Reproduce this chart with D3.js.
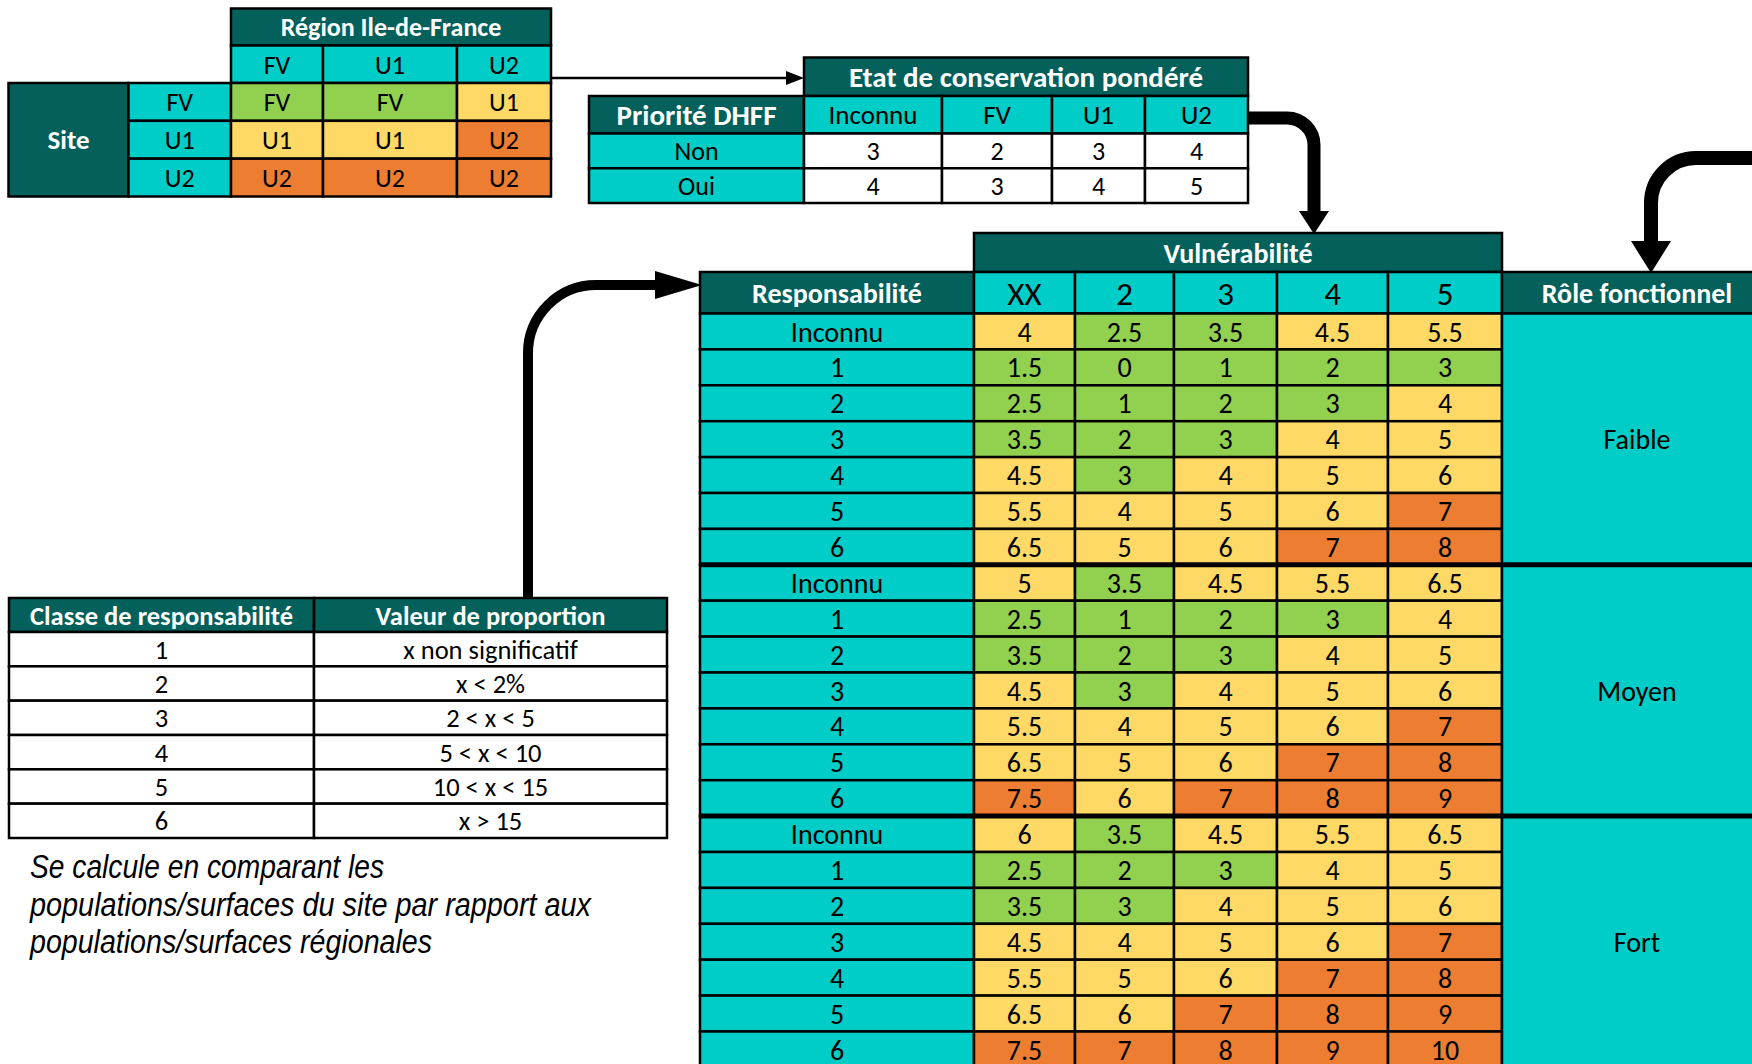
<!DOCTYPE html>
<html lang="fr">
<head>
<meta charset="UTF-8">
<title>Matrice de priorisation</title>
<script src="https://d3js.org/d3.v7.min.js"></script>
<style>
body {
    margin: 0;
    background-color: #ffffff;
}
svg {
    display: block;
    font-family: Carlito, Calibri, Lato, sans-serif;
}
.note {
    font-family: 'Liberation Sans Narrow', 'Arial Narrow', sans-serif;
    font-style: italic;
}
</style>
</head>
<body>
<svg id="canvas"></svg>
<script>
// ---- data ----
let regionCols = ['FV', 'U1', 'U2']
let siteRows = ['FV', 'U1', 'U2']
let etatMatrix = [
    ['FV', 'FV', 'U1'],
    ['U1', 'U1', 'U2'],
    ['U2', 'U2', 'U2']
]

let etatCols = ['Inconnu', 'FV', 'U1', 'U2']
let prioriteRows = ['Non', 'Oui']
let etatScores = [
    [3, 2, 3, 4],
    [4, 3, 4, 5]
]

let vulnCols = ['XX', '2', '3', '4', '5']
let respRows = ['Inconnu', '1', '2', '3', '4', '5', '6']
let roles = ['Faible', 'Moyen', 'Fort']
let scoresFaible = [
    [4, 2.5, 3.5, 4.5, 5.5],
    [1.5, 0, 1, 2, 3],
    [2.5, 1, 2, 3, 4],
    [3.5, 2, 3, 4, 5],
    [4.5, 3, 4, 5, 6],
    [5.5, 4, 5, 6, 7],
    [6.5, 5, 6, 7, 8]
]
let scoresMoyen = [
    [5, 3.5, 4.5, 5.5, 6.5],
    [2.5, 1, 2, 3, 4],
    [3.5, 2, 3, 4, 5],
    [4.5, 3, 4, 5, 6],
    [5.5, 4, 5, 6, 7],
    [6.5, 5, 6, 7, 8],
    [7.5, 6, 7, 8, 9]
]
let scoresFort = [
    [6, 3.5, 4.5, 5.5, 6.5],
    [2.5, 2, 3, 4, 5],
    [3.5, 3, 4, 5, 6],
    [4.5, 4, 5, 6, 7],
    [5.5, 5, 6, 7, 8],
    [6.5, 6, 7, 8, 9],
    [7.5, 7, 8, 9, 10]
]

let classes = ['1', '2', '3', '4', '5', '6']
let proportions = ['x non significatif', 'x < 2%', '2 < x < 5', '5 < x < 10', '10 < x < 15', 'x > 15']
let noteLines = [
    'Se calcule en comparant les',
    'populations/surfaces du site par rapport aux',
    'populations/surfaces régionales'
]

// ---- style ----
let dark = '#03605B'
let cyan = '#00CCC8'
let green = '#92D050'
let yellow = '#FFD966'
let orange = '#ED7D31'
let line = 2.5

let width = 1752
let height = 1064

let svg = d3.select('svg')
    .attr('width', width)
    .attr('height', height)

let statusColor = d3.scaleOrdinal().domain(['FV', 'U1', 'U2']).range([green, yellow, orange])
let scoreColor = d3.scaleThreshold().domain([3.75, 6.75]).range([green, yellow, orange])

let edgesScale = (keys, edges) => {
    let x = d3.scaleOrdinal().domain(keys).range(edges.slice(0, -1))
    let w = d3.scaleOrdinal().domain(keys).range(d3.pairs(edges).map(p => p[1] - p[0]))
    return [x, w]
}

let cell = (g, x, y, w, h, fill, label, opts = {}) => {
    g.append('rect')
        .attr('x', x).attr('y', y)
        .attr('width', w).attr('height', h)
        .attr('fill', fill)
        .attr('stroke', '#000')
        .attr('stroke-width', line)
    if (label === undefined) return
    g.append('text')
        .attr('x', x + w / 2)
        .attr('y', y + h / 2)
        .attr('dy', '0.36em')
        .attr('text-anchor', 'middle')
        .attr('font-size', opts.size || 26)
        .attr('font-weight', opts.bold ? 'bold' : 'normal')
        .attr('fill', opts.white ? '#fff' : '#000')
        .text(label)
}

// ---- table 1 : Site x Région ----
let drawSiteTable = () => {
    let g = svg.append('g')
    let [x, w] = edgesScale(regionCols, [231, 323, 457, 551])
    let y = d3.scaleBand().domain(siteRows).range([83, 196.5])

    cell(g, 231, 8.5, 320, 37, dark, 'Région Ile-de-France', { bold: true, white: true, size: 26 })
    regionCols.forEach(c => cell(g, x(c), 45.5, w(c), 37.5, cyan, c, { size: 26 }))
    cell(g, 8.5, 83, 120, 113.5, dark, 'Site', { bold: true, white: true, size: 27 })
    siteRows.forEach((r, i) => {
        cell(g, 128.5, y(r), 102.5, y.bandwidth(), cyan, r, { size: 26 })
        regionCols.forEach((c, j) => {
            let v = etatMatrix[i][j]
            cell(g, x(c), y(r), w(c), y.bandwidth(), statusColor(v), v, { size: 26 })
        })
    })
}

// ---- table 2 : Etat de conservation pondéré ----
let drawEtatTable = () => {
    let g = svg.append('g')
    let [x, w] = edgesScale(etatCols, [804, 942, 1052, 1145, 1248])
    let y = d3.scaleBand().domain(prioriteRows).range([133.5, 203])

    cell(g, 804, 57.5, 444, 38.5, dark, 'Etat de conservation pondéré', { bold: true, white: true, size: 29 })
    cell(g, 589, 96, 215, 37.5, dark, 'Priorité DHFF', { bold: true, white: true, size: 29 })
    etatCols.forEach(c => cell(g, x(c), 96, w(c), 37.5, cyan, c, { size: 27 }))
    prioriteRows.forEach((r, i) => {
        cell(g, 589, y(r), 215, y.bandwidth(), cyan, r, { size: 26 })
        etatCols.forEach((c, j) => cell(g, x(c), y(r), w(c), y.bandwidth(), '#fff', etatScores[i][j], { size: 26 }))
    })
}

// ---- big table : Responsabilité x Vulnérabilité x Rôle ----
let drawScoreTable = () => {
    let g = svg.append('g')
    let [x, w] = edgesScale(vulnCols, [974, 1075, 1174, 1277, 1388, 1502])
    let groups = [scoresFaible, scoresMoyen, scoresFort]
    let keys = []
    roles.forEach(role => respRows.forEach(r => keys.push(role + '|' + r)))
    let y = d3.scaleBand().domain(keys).range([313.5, 313.5 + keys.length * 35.9])
    let h = y.bandwidth()

    cell(g, 974, 233, 528, 39, dark, 'Vulnérabilité', { bold: true, white: true, size: 28 })
    cell(g, 700, 272, 274, 41.5, dark, 'Responsabilité', { bold: true, white: true, size: 28 })
    vulnCols.forEach(c => cell(g, x(c), 272, w(c), 41.5, cyan, c, { size: 33 }))
    cell(g, 1502, 272, 270, 41.5, dark, 'Rôle fonctionnel', { bold: true, white: true, size: 28 })

    roles.forEach((role, k) => {
        let top = y(role + '|' + respRows[0])
        respRows.forEach((r, i) => {
            let yy = y(role + '|' + r)
            cell(g, 700, yy, 274, h, cyan, r, { size: 28 })
            vulnCols.forEach((c, j) => {
                let v = groups[k][i][j]
                cell(g, x(c), yy, w(c), h, scoreColor(v), v, { size: 28 })
            })
        })
        cell(g, 1502, top, 270, h * respRows.length, cyan, role, { size: 28 })
    })

    // thicker lines between role groups
    roles.slice(1).forEach(role => {
        g.append('line')
            .attr('x1', 699).attr('x2', width)
            .attr('y1', y(role + '|' + respRows[0]))
            .attr('y2', y(role + '|' + respRows[0]))
            .attr('stroke', '#000')
            .attr('stroke-width', 5)
    })
}

// ---- table 3 : Classe de responsabilité ----
let drawClassTable = () => {
    let g = svg.append('g')
    let y = d3.scaleBand().domain(classes).range([632, 838])

    cell(g, 9, 598, 305, 34, dark, 'Classe de responsabilité', { bold: true, white: true, size: 26.5 })
    cell(g, 314, 598, 353, 34, dark, 'Valeur de proportion', { bold: true, white: true, size: 26.5 })
    classes.forEach((c, i) => {
        cell(g, 9, y(c), 305, y.bandwidth(), '#fff', c, { size: 26.5 })
        cell(g, 314, y(c), 353, y.bandwidth(), '#fff', proportions[i], { size: 26.5 })
    })

    let noteWidths = [354, 561, 402]
    g.selectAll('text.note')
        .data(noteLines)
        .join('text')
        .attr('class', 'note')
        .attr('x', 30)
        .attr('y', (d, i) => 878 + i * 37.5)
        .attr('font-size', 33)
        .attr('textLength', (d, i) => noteWidths[i])
        .attr('lengthAdjust', 'spacingAndGlyphs')
        .text(d => d)
}

// ---- arrows ----
let drawArrows = () => {
    let g = svg.append('g')

    g.append('line')
        .attr('x1', 551).attr('y1', 78).attr('x2', 788).attr('y2', 78)
        .attr('stroke', '#000').attr('stroke-width', 2.5)
    g.append('path').attr('d', 'M786,71 L804,78 L786,85 Z').attr('fill', '#000')

    let thick = [
        { d: 'M1247,118 H1287 A27,27 0 0 1 1314,145 V214', w: 13, head: 'M1299,211 L1329,211 L1314,234 Z' },
        { d: 'M1760,158 H1696 A45,45 0 0 0 1651,203 V243', w: 14, head: 'M1631,241 L1671,241 L1651,273 Z' },
        { d: 'M528,597 V353 A68,68 0 0 1 596,285 H658', w: 10, head: 'M655,271 L655,299 L702,285 Z' }
    ]
    thick.forEach(a => {
        g.append('path').attr('d', a.d).attr('fill', 'none').attr('stroke', '#000').attr('stroke-width', a.w)
        g.append('path').attr('d', a.head).attr('fill', '#000')
    })
}

drawSiteTable()
drawEtatTable()
drawScoreTable()
drawClassTable()
drawArrows()
</script>
</body>
</html>
